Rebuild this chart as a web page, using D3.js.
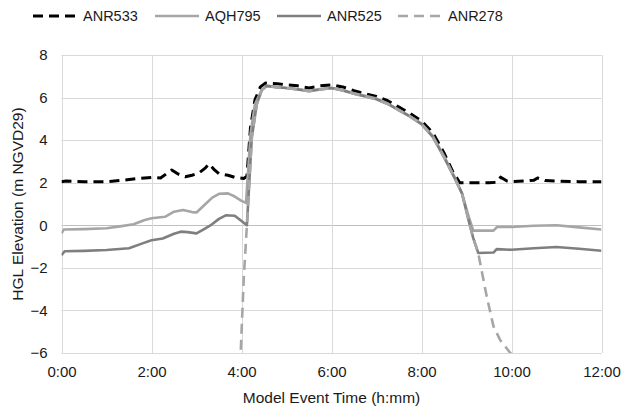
<!DOCTYPE html>
<html lang="en">
<head>
    <meta charset="UTF-8">
    <title>HGL Elevation</title>
    <script src="https://d3js.org/d3.v7.min.js"></script>
    <style>
        body { margin: 0; background: #fff; }
        svg { font-family: "Liberation Sans", Arial, sans-serif; }
        .grid line { stroke: #d9d9d9; stroke-width: 1px; }
        .tick text { fill: #1a1a1a; }
        .series { fill: none; stroke-linejoin: round; }
    </style>
</head>
<body>
<svg id="chart" width="622" height="406"></svg>
<script>
    var configuration = {
        "width": 622,
        "height": 406,
        "left": 61.5,
        "right": 601.5,
        "top": 55,
        "bottom": 353,
        "line_width": 2.6
    };

    // time in hours, elevation in m NGVD29
    var xTicks = [0, 2, 4, 6, 8, 10, 12];
    var yTicks = [-6, -4, -2, 0, 2, 4, 6, 8];

    var anr533 = [
        [0, 2.05], [0.1, 2.08], [0.5, 2.05], [1.0, 2.05], [1.4, 2.12], [1.7, 2.2], [2.0, 2.25],
        [2.2, 2.22], [2.35, 2.45], [2.45, 2.6], [2.6, 2.4], [2.75, 2.28], [2.9, 2.35], [3.05, 2.45],
        [3.2, 2.7], [3.28, 2.88], [3.4, 2.6], [3.5, 2.42], [3.7, 2.35], [3.85, 2.25], [4.05, 2.2],
        [4.12, 2.3], [4.2, 4.6], [4.3, 5.9], [4.42, 6.5], [4.53, 6.68], [4.8, 6.65], [5.0, 6.6],
        [5.25, 6.55], [5.5, 6.45], [5.75, 6.55], [6.0, 6.6], [6.25, 6.5], [6.5, 6.32], [6.75, 6.18],
        [7.0, 6.05], [7.25, 5.85], [7.5, 5.55], [7.75, 5.25], [8.0, 4.9], [8.25, 4.35], [8.5, 3.4],
        [8.7, 2.5], [8.85, 2.0], [9.0, 2.0], [9.5, 2.0], [9.68, 2.02], [9.76, 2.26], [9.9, 2.08],
        [10.0, 2.05], [10.3, 2.08], [10.5, 2.12], [10.58, 2.22], [10.75, 2.1], [11.0, 2.08],
        [11.5, 2.05], [12.0, 2.05]
    ];

    var aqh795 = [
        [0, -0.38], [0.05, -0.2], [0.5, -0.18], [1.0, -0.14], [1.3, -0.05], [1.6, 0.05], [1.85, 0.25],
        [2.0, 0.33], [2.3, 0.4], [2.5, 0.64], [2.7, 0.72], [2.9, 0.62], [3.0, 0.6], [3.1, 0.8],
        [3.2, 1.0], [3.35, 1.3], [3.5, 1.48], [3.7, 1.5], [3.85, 1.35], [4.0, 1.15], [4.1, 1.05],
        [4.2, 4.3], [4.3, 5.7], [4.45, 6.35], [4.55, 6.55], [4.8, 6.5], [5.0, 6.45], [5.25, 6.4],
        [5.5, 6.32], [5.75, 6.4], [6.0, 6.45], [6.25, 6.35], [6.5, 6.2], [6.75, 6.08], [7.0, 5.95],
        [7.25, 5.72], [7.5, 5.42], [7.75, 5.12], [8.0, 4.78], [8.25, 4.2], [8.5, 3.25], [8.75, 2.2],
        [8.9, 1.5], [9.05, 0.4], [9.15, -0.25], [9.6, -0.25], [9.68, -0.08], [10.0, -0.08],
        [10.5, -0.02], [11.0, 0.0], [11.5, -0.1], [12.0, -0.2]
    ];

    var anr525 = [
        [0, -1.4], [0.07, -1.22], [0.5, -1.2], [1.0, -1.16], [1.5, -1.08], [1.8, -0.85], [2.0, -0.7],
        [2.25, -0.62], [2.5, -0.4], [2.65, -0.3], [2.8, -0.32], [3.0, -0.38], [3.15, -0.2],
        [3.3, -0.02], [3.5, 0.3], [3.65, 0.47], [3.85, 0.45], [4.0, 0.2], [4.12, 0.0], [4.23, 4.15],
        [4.34, 5.7], [4.45, 6.35], [4.56, 6.55], [4.8, 6.48], [5.0, 6.45], [5.25, 6.38], [5.5, 6.3],
        [5.75, 6.38], [6.0, 6.45], [6.25, 6.33], [6.5, 6.18], [6.75, 6.05], [7.0, 5.92], [7.25, 5.7],
        [7.5, 5.4], [7.75, 5.1], [8.0, 4.75], [8.25, 4.15], [8.5, 3.2], [8.75, 2.15], [8.9, 1.5],
        [9.05, 0.2], [9.15, -0.6], [9.26, -1.3], [9.6, -1.28], [9.67, -1.12], [10.0, -1.15],
        [10.5, -1.08], [11.0, -1.02], [11.5, -1.1], [12.0, -1.2]
    ];

    var anr278 = [
        [3.97, -6.6], [4.05, -2.5], [4.12, 0.0], [4.23, 4.15], [4.34, 5.7], [4.45, 6.35],
        [4.56, 6.55], [4.8, 6.48], [5.0, 6.45], [5.25, 6.38], [5.5, 6.3], [5.75, 6.38], [6.0, 6.45],
        [6.25, 6.33], [6.5, 6.18], [6.75, 6.05], [7.0, 5.92], [7.25, 5.7], [7.5, 5.4], [7.75, 5.1],
        [8.0, 4.75], [8.25, 4.15], [8.5, 3.2], [8.75, 2.15], [8.9, 1.5], [9.05, 0.2], [9.15, -0.6],
        [9.26, -1.3], [9.45, -3.35], [9.6, -4.75], [9.75, -5.4], [9.9, -5.8], [10.05, -6.2]
    ];

    var seriesNames = ["ANR533", "AQH795", "ANR525", "ANR278"];
    var seriesData = [anr533, aqh795, anr525, anr278];
    var seriesColors = ["#000000", "#a6a6a6", "#7f7f7f", "#a6a6a6"];
    var seriesWidth = [3, 2.6, 2.6, 2.6];
    var seriesDash = ["10,6", null, null, "10,6"];
    var legendX = [33, 155, 277, 398];

    var svg = d3.select("#chart");

    var xScale = d3.scaleLinear()
            .domain([0, 12])
            .range([configuration.left, configuration.right]);
    var yScale = d3.scaleLinear()
            .domain([-6, 8])
            .range([configuration.bottom, configuration.top]);

    function fmtTime(h) {
        return h + ":00";
    }

    //gridlines
    var grid = svg.append("g").attr("class", "grid");
    grid.selectAll("line.h")
            .data(yTicks)
            .enter()
            .append("line")
            .attr("x1", configuration.left)
            .attr("x2", configuration.right)
            .attr("y1", function(d){ return Math.round(yScale(d)) + 0.5; })
            .attr("y2", function(d){ return Math.round(yScale(d)) + 0.5; })
            .style("stroke", function(d){ return d === 0 ? "#bfbfbf" : null; });
    grid.selectAll("line.v")
            .data(xTicks)
            .enter()
            .append("line")
            .attr("y1", configuration.top)
            .attr("y2", configuration.bottom)
            .attr("x1", function(d){ return Math.round(xScale(d)) + 0.5; })
            .attr("x2", function(d){ return Math.round(xScale(d)) + 0.5; });

    //axes
    var xAxis = svg.append("g")
            .attr("transform", "translate(0," + configuration.bottom + ")")
            .call(d3.axisBottom(xScale).tickValues(xTicks).tickFormat(fmtTime).tickSize(0).tickPadding(13));
    xAxis.select(".domain").remove();
    xAxis.selectAll("text").style("font-size", "15px");

    var yAxis = svg.append("g")
            .attr("transform", "translate(" + configuration.left + ",0)")
            .call(d3.axisLeft(yScale).tickValues(yTicks).tickSize(0).tickPadding(14));
    yAxis.select(".domain").remove();
    yAxis.selectAll("text").style("font-size", "15px");

    svg.append("text")
            .text("Model Event Time (h:mm)")
            .attr("x", (configuration.left + configuration.right) / 2)
            .attr("y", 403)
            .attr("text-anchor", "middle")
            .attr("fill", "#1a1a1a")
            .style("font-size", "15.5px");

    svg.append("text")
            .text("HGL Elevation (m NGVD29)")
            .attr("transform", "translate(23," + ((configuration.top + configuration.bottom) / 2) + ") rotate(-90)")
            .attr("text-anchor", "middle")
            .attr("fill", "#1a1a1a")
            .style("font-size", "15.5px");

    //clip the lines to the plot area
    svg.append("clipPath")
            .attr("id", "plotClip")
            .append("rect")
            .attr("x", configuration.left)
            .attr("y", configuration.top)
            .attr("width", configuration.right - configuration.left)
            .attr("height", configuration.bottom - configuration.top);

    var lineShaper = d3.line()
            .x(function(d){ return xScale(d[0]); })
            .y(function(d){ return yScale(d[1]); });

    var plot = svg.append("g").attr("clip-path", "url(#plotClip)");
    seriesData.forEach(function(data, i){
        plot.append("path")
                .datum(data)
                .attr("class", "series")
                .attr("d", lineShaper)
                .attr("stroke", seriesColors[i])
                .attr("stroke-width", seriesWidth[i])
                .attr("stroke-dasharray", seriesDash[i]);
    });

    //legend
    var legend = svg.append("g");
    seriesNames.forEach(function(name, i){
        legend.append("line")
                .attr("x1", legendX[i])
                .attr("x2", legendX[i] + 44)
                .attr("y1", 16)
                .attr("y2", 16)
                .attr("stroke", seriesColors[i])
                .attr("stroke-width", seriesWidth[i])
                .attr("stroke-dasharray", seriesDash[i]);
        legend.append("text")
                .text(name)
                .attr("x", legendX[i] + 50)
                .attr("y", 21)
                .attr("fill", "#1a1a1a")
                .style("font-size", "14.5px");
    });
</script>
</body>
</html>
